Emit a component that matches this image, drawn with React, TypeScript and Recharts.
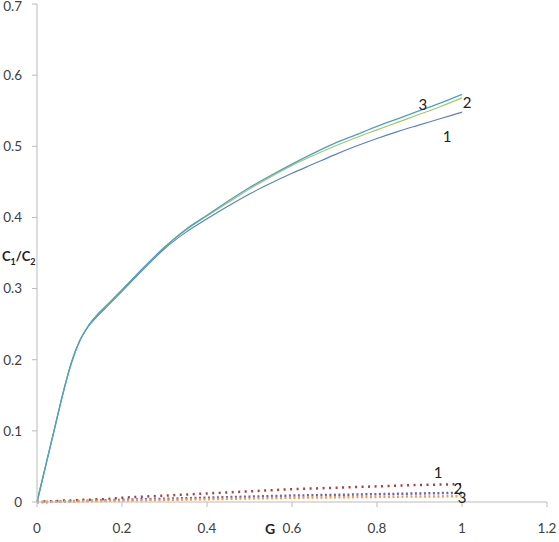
import { LineChart, Line, XAxis, YAxis, ReferenceDot } from 'recharts'

// G values shared by all six curves
const gValues = [0, 0.02, 0.04, 0.06, 0.08, 0.1, 0.12, 0.14, 0.16, 0.2, 0.25, 0.3, 0.35, 0.4, 0.45, 0.5, 0.55, 0.6, 0.65, 0.7, 0.75, 0.8, 0.85, 0.9, 0.95, 1]

// solid curves
const solid1 = [0, 0.05, 0.1, 0.15, 0.194, 0.226, 0.246, 0.26, 0.272, 0.296, 0.327, 0.356, 0.379, 0.398, 0.416, 0.433, 0.448, 0.462, 0.475, 0.488, 0.5, 0.511, 0.521, 0.53, 0.539, 0.548]
const solid2 = [0, 0.05, 0.1, 0.15, 0.194, 0.226, 0.247, 0.262, 0.274, 0.298, 0.329, 0.358, 0.382, 0.402, 0.421, 0.44, 0.457, 0.473, 0.487, 0.5, 0.512, 0.523, 0.534, 0.545, 0.556, 0.568]
const solid3 = [0, 0.05, 0.1, 0.15, 0.194, 0.226, 0.247, 0.262, 0.274, 0.298, 0.329, 0.358, 0.383, 0.403, 0.423, 0.442, 0.459, 0.475, 0.49, 0.504, 0.516, 0.528, 0.539, 0.55, 0.561, 0.573]

// dotted curves
const dotted1 = [0, 0.001, 0.001, 0.002, 0.002, 0.003, 0.003, 0.004, 0.004, 0.006, 0.0075, 0.009, 0.0105, 0.012, 0.0135, 0.015, 0.0165, 0.018, 0.019, 0.02, 0.021, 0.022, 0.023, 0.024, 0.0245, 0.025]
const dotted2 = [0, 0, 0.0005, 0.0007, 0.001, 0.0015, 0.0018, 0.002, 0.0023, 0.003, 0.0038, 0.0045, 0.0053, 0.006, 0.0068, 0.0075, 0.0083, 0.009, 0.0095, 0.01, 0.0105, 0.011, 0.0115, 0.012, 0.0125, 0.013]
const dotted3 = [0, 0, 0.0003, 0.0005, 0.0007, 0.001, 0.0012, 0.0014, 0.0016, 0.002, 0.0025, 0.003, 0.0035, 0.004, 0.0045, 0.005, 0.0055, 0.006, 0.0063, 0.0066, 0.0069, 0.0072, 0.0075, 0.0078, 0.0079, 0.008]

const xTicks = [0, 0.2, 0.4, 0.6, 0.8, 1, 1.2]
const yTicks = [0, 0.1, 0.2, 0.3, 0.4, 0.5, 0.6, 0.7]

// curve number labels placed near line ends
const curveLabels = [
  { text: '3', x: 0.908, y: 0.559 },
  { text: '2', x: 1.012, y: 0.562 },
  { text: '1', x: 0.965, y: 0.513 },
  { text: '1', x: 0.944, y: 0.041 },
  { text: '2', x: 0.99, y: 0.019 },
  { text: '3', x: 1.0, y: 0.006 },
]

const data = gValues.map((g, i) => ({
  g,
  s1: solid1[i],
  s2: solid2[i],
  s3: solid3[i],
  d1: dotted1[i],
  d2: dotted2[i],
  d3: dotted3[i],
}))

const font = 'Lato, "Open Sans", sans-serif'
const tickStyle = { fill: '#404040', fontSize: 13.5, fontFamily: font }

// y tick: the top label sits a little higher and gets clipped by the page edge
function YTick(props: any) {
  const { x, y, payload } = props
  const shift = payload.value === 0.7 ? -3 : 0
  return (
    <text x={x} y={y + shift} dy="0.355em" textAnchor="end" {...tickStyle}>
      {payload.value}
    </text>
  )
}

export default function App() {
  return (
    <div style={{ position: 'absolute', left: 0, top: 0, width: 559, height: 542, background: '#fff', fontFamily: font }}>
      <LineChart width={559} height={542} data={data} margin={{ top: 4, right: 12, left: 0, bottom: 0 }}>
        <XAxis
          dataKey="g"
          type="number"
          domain={[0, 1.2]}
          ticks={xTicks}
          stroke="#bbbbbb"
          tickSize={5}
          tickMargin={16}
          height={40}
          tick={tickStyle}
        />
        <YAxis
          type="number"
          domain={[0, 0.7]}
          ticks={yTicks}
          stroke="#bbbbbb"
          tickSize={5}
          tickMargin={10}
          width={37}
          tick={<YTick />}
        />
        <Line dataKey="d1" stroke="#a8403c" strokeWidth={2.5} strokeDasharray="2 4.5" dot={false} isAnimationActive={false} />
        <Line dataKey="d2" stroke="#6f62a8" strokeWidth={2.5} strokeDasharray="2 2.5" dot={false} isAnimationActive={false} />
        <Line dataKey="d3" stroke="#f29a4a" strokeWidth={2.5} strokeDasharray="2 2.5" dot={false} isAnimationActive={false} />
        <Line type="monotone" dataKey="s1" stroke="#5b82c2" strokeWidth={1.2} dot={false} isAnimationActive={false} />
        <Line type="monotone" dataKey="s2" stroke="#a9c46a" strokeWidth={1.2} dot={false} isAnimationActive={false} />
        <Line type="monotone" dataKey="s3" stroke="#4aa3bd" strokeWidth={1.3} dot={false} isAnimationActive={false} />
        {curveLabels.map((l, i) => (
          <ReferenceDot
            key={i}
            x={l.x}
            y={l.y}
            r={0}
            stroke="none"
            ifOverflow="visible"
            label={{ value: l.text, position: 'center', fill: '#222', fontSize: 15, fontFamily: font }}
          />
        ))}
      </LineChart>
      <div style={{ position: 'absolute', left: 2, top: 248, fontSize: 13, fontWeight: 'bold', color: '#222' }}>
        C<sub style={{ fontSize: 9 }}>1</sub>/C<sub style={{ fontSize: 9 }}>2</sub>
      </div>
      <div style={{ position: 'absolute', left: 265, top: 520, fontSize: 14, fontWeight: 'bold', color: '#222' }}>G</div>
    </div>
  )
}
